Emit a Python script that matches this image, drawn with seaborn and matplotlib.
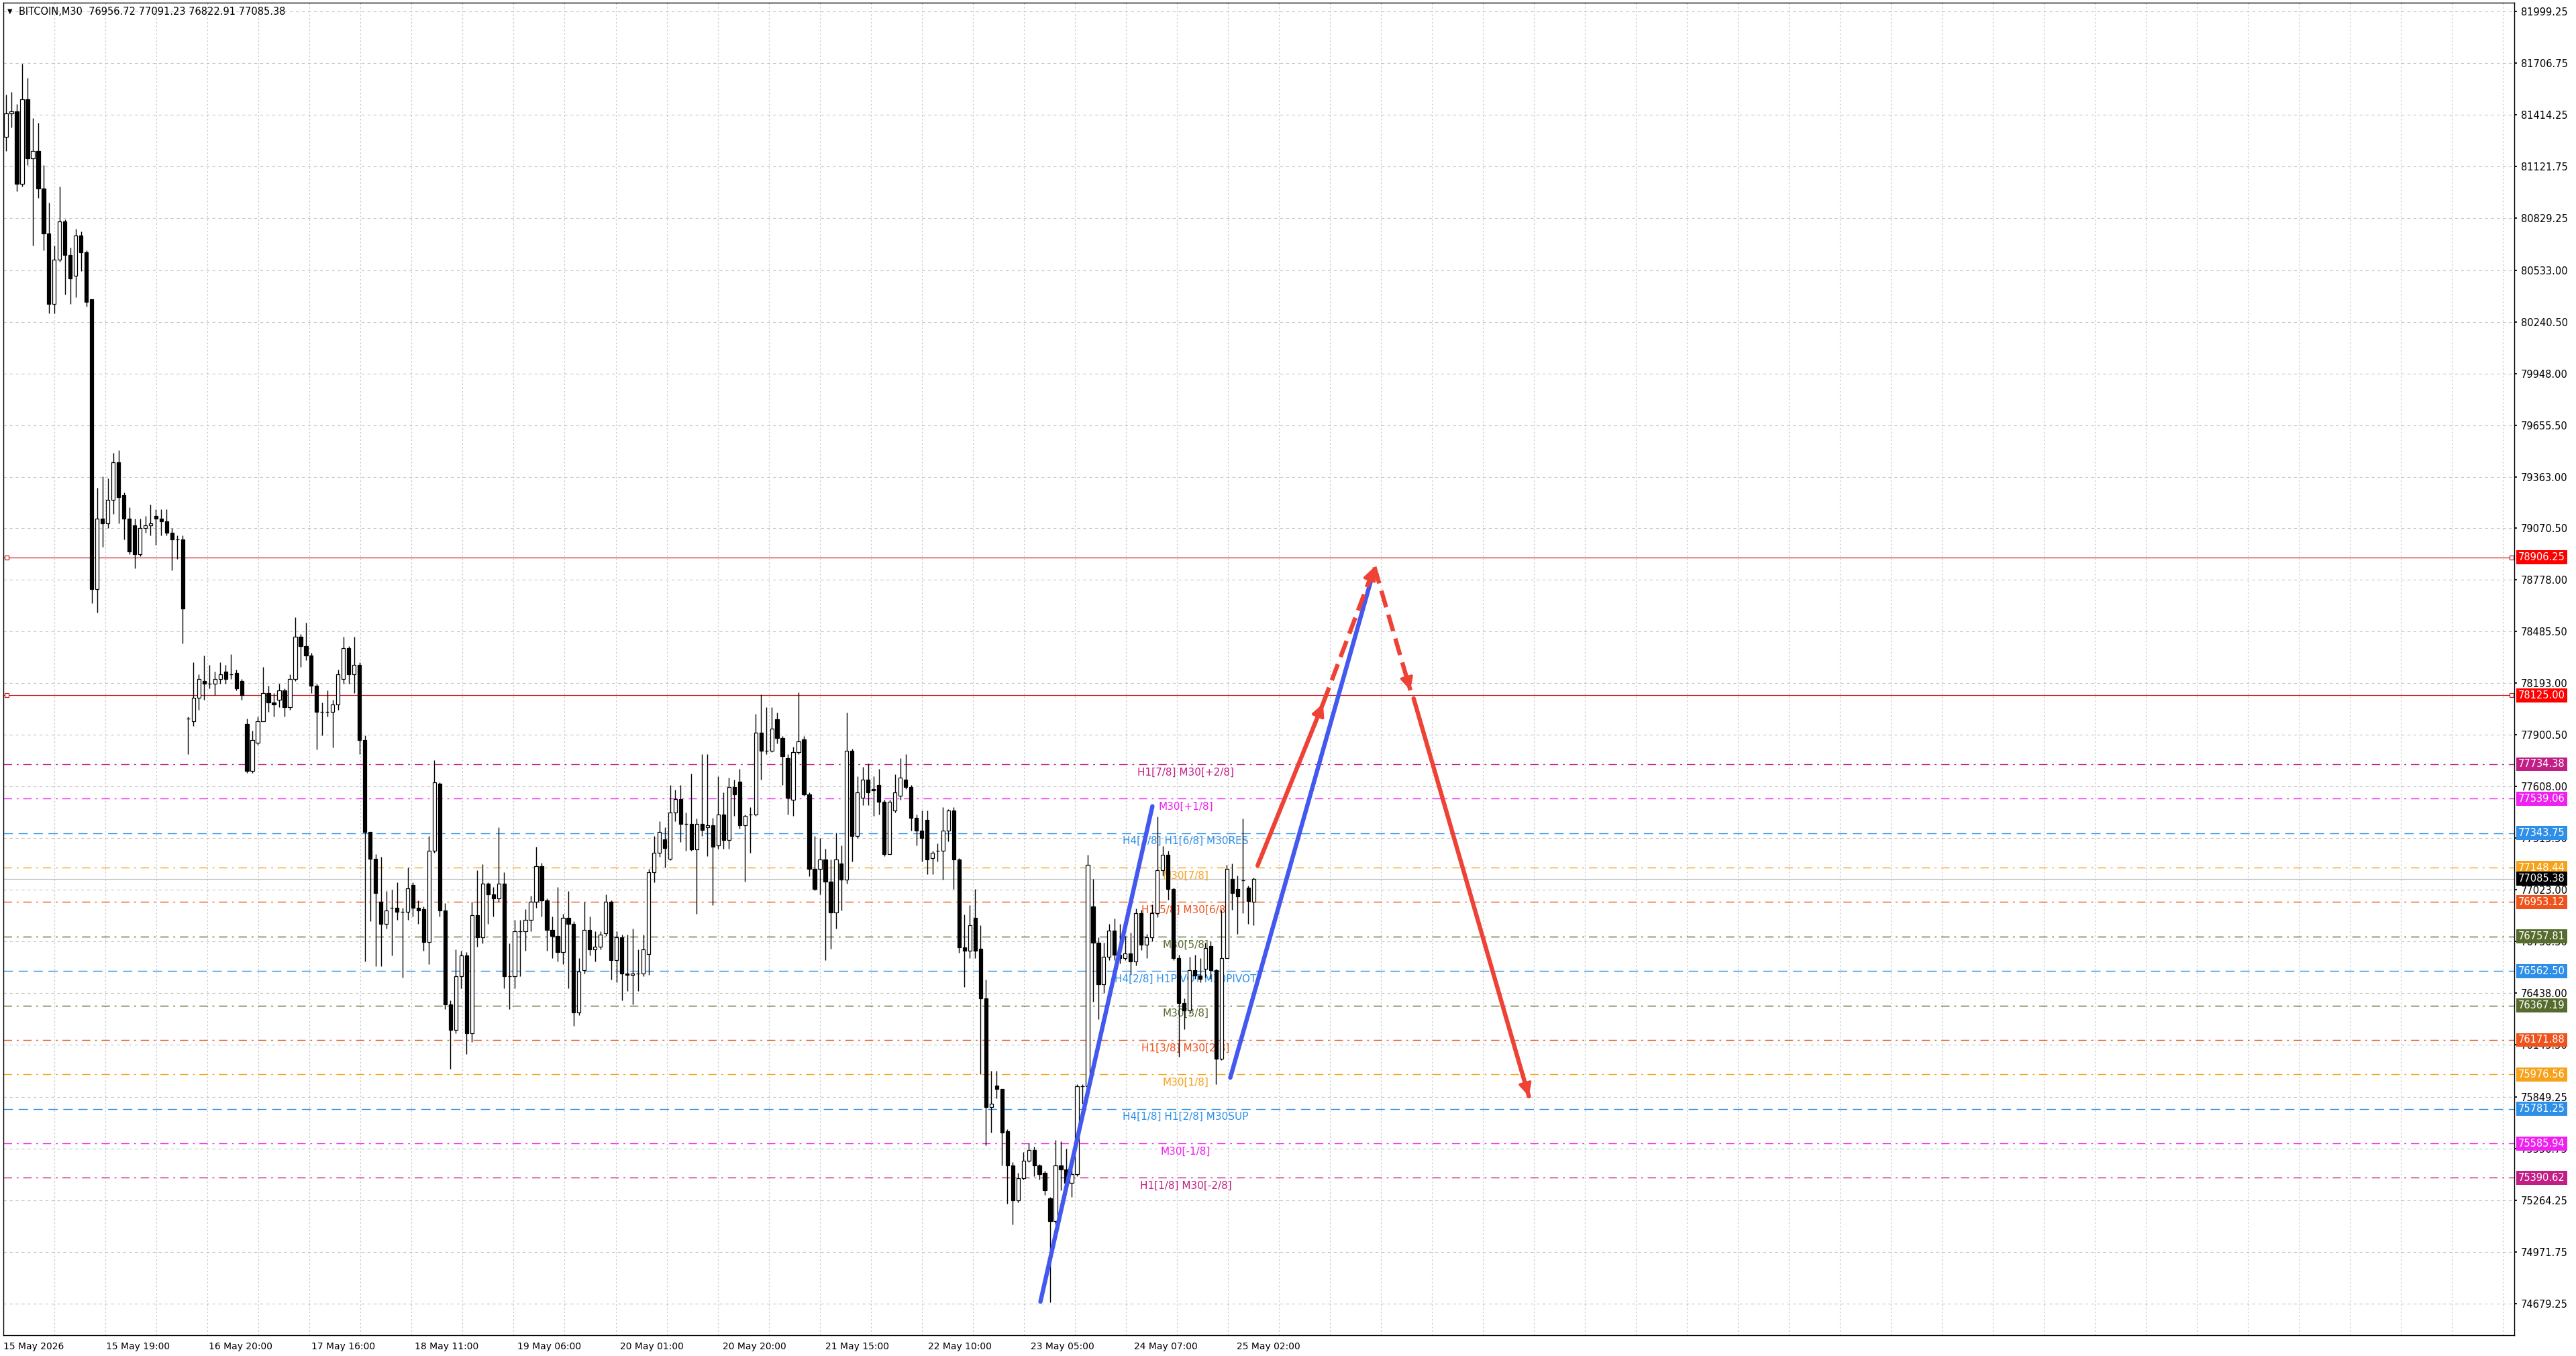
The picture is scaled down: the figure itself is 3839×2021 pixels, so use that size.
import numpy as np
import pandas as pd
import seaborn as sns
import matplotlib.pyplot as plt
from matplotlib.transforms import blended_transform_factory

# ---- price bars (each bar = two M30 candles) ----
opens = [
    81288, 81422, 81435, 81021, 81502, 81168, 81208, 80995, 80741, 80341,
    80594, 80808, 80621, 80501, 80728, 80634, 80367, 78725, 79126, 79099,
    79232, 79446, 79259, 79126, 79086, 78925, 79072, 79086, 79139, 79126,
    79112, 79046, 79006, 79006, 77991, 77978, 78111, 78205, 78191, 78191,
    78218, 78258, 78245, 78250, 78205, 77964, 77697, 77857, 77978, 78138,
    78084, 78098, 78151, 78058, 78218, 78458, 78405, 78351, 78178, 78031,
    78031, 78031, 78071, 78218, 78391, 78245, 78298,
    77871, 77352, 77200, 76955, 76828, 76921, 76921, 76896, 76896, 77048,
    76921, 76913, 76727, 77243, 77623, 76904, 76372, 76228, 76532, 76651,
    76211, 76879, 76752, 77056, 76997, 76972, 77056, 76532, 76532, 76786,
    76786, 76854, 76955, 77158, 76963, 76794, 76760, 76668, 76862, 76828,
    76329, 76566, 76794, 76684, 76701, 76777, 76955, 76625, 76752, 76549,
    76541, 76549, 76549, 76659, 77124, 77234, 77310, 77200, 77462, 77538,
    77395, 77395, 77251, 77395,
    77378, 77389, 77275, 77450, 77306, 77605, 77636, 77389, 77450, 77450,
    77914, 77811, 77811, 77987, 77884, 77770, 77533, 77801, 77873, 77564,
    77141, 77141, 77193, 77069, 76894, 77172, 77079, 77811, 77327, 77543,
    77646, 77595, 77615, 77523, 77224, 77471, 77554, 77646, 77605, 77430,
    77358, 77420, 77203, 77244, 77244, 77358, 77471, 77193, 76698, 76677,
    76863, 76688, 76409, 75791, 75914, 75894,
    75655, 75459, 75263, 75390, 75488, 75547, 75459, 75420, 75273, 75145,
    75459, 75439, 75361, 75410, 75909, 75909, 76928, 76722, 76487, 76644,
    76791, 76654, 76634, 76663, 76615, 76889, 76713, 76752, 76889, 77134,
    77222, 77026, 76634, 76379, 76340, 76566, 76536, 76575, 76703, 76566,
    76066, 76634, 77085, 77026, 77075, 77036, 76956.72,
]
highs = [
    81529, 81542, 81475, 81702, 81622, 81395, 81369, 81128, 80915, 80674,
    81008, 80821, 80661, 80768, 80754, 80648, 80367, 79299, 79366, 79353,
    79499, 79513, 79273, 79192, 79126, 79126, 79139, 79206, 79179, 79179,
    79179, 79072, 79032, 79032, 78004, 78311, 78245, 78351, 78298, 78258,
    78311, 78298, 78357, 78271, 78218, 77991, 77924, 78004, 78285, 78178,
    78138, 78191, 78164, 78245, 78565, 78472, 78538, 78365, 78191, 78084,
    78151, 78098, 78271, 78458, 78405, 78458, 78311,
    77897, 77352, 77226, 77209, 77014, 77023, 77065, 76921, 77150, 77065,
    76963, 76930, 77327, 77758, 77631, 76946, 76397, 76684, 76676, 76668,
    76955, 77133, 77166, 77065, 77040, 77378, 77124, 76718, 76854, 76854,
    76913, 76989, 77268, 77175, 76972, 76870, 77040, 76887, 77014, 76845,
    76634, 76955, 76870, 76786, 76786, 76997, 76963, 76786, 76769, 76769,
    76803, 76684, 76769, 77141, 77327, 77412, 77378, 77615, 77589, 77615,
    77462, 77682, 77428, 77792,
    77791, 77430, 77667, 77574, 77657, 77646, 77708, 77450, 77492, 78018,
    78131, 78059, 78059, 78028, 77894, 77791, 77832, 78141, 77894, 77574,
    77327, 77316, 77255, 77193, 77347, 77275, 78028, 77822, 77667, 77719,
    77739, 77667, 77708, 77533, 77533, 77677, 77770, 77791, 77615, 77450,
    77471, 77471, 77244, 77286, 77492, 77481, 77492, 77203, 76884, 76935,
    77028, 76822, 76512, 75997, 75997, 75894,
    75665, 75478, 75420, 75537, 75586, 75566, 75469, 75429, 75283, 75606,
    75596, 75557, 75439, 75919, 75919, 77222, 77085, 76752, 76722, 76830,
    76859, 76830, 76762, 76781, 76918, 76908, 76771, 76938, 77437, 77271,
    77242, 77036, 76654, 76409, 76644, 76654, 76634, 76722, 76732, 76575,
    76908, 77163, 77173, 77104, 77428, 77046, 77091.23,
]
lows = [
    81208, 81342, 80981, 81008, 81128, 80674, 80941, 80648, 80287, 80287,
    80581, 80394, 80341, 80381, 80527, 80327, 78645, 78592, 78965, 79072,
    79152, 79099, 79006, 78925, 78845, 78912, 79046, 79032, 78979, 79032,
    79032, 78832, 78899, 78418, 77791, 77951, 78044, 78098, 78164, 78124,
    78191, 78191, 78218, 78151, 78098, 77684, 77684, 77844, 77978, 78031,
    78004, 78058, 78004, 78044, 78205, 78285, 78325, 78138, 77817, 77897,
    78004, 77831, 78044, 78191, 78191, 78138, 77791,
    76617, 76845, 76591, 76591, 76803, 76651, 76854, 76524, 76854, 76870,
    76828, 76676, 76600, 77234, 76870, 76346, 76008, 76211, 76465, 76093,
    76160, 76701, 76718, 76828, 76870, 76955, 76465, 76346, 76465, 76532,
    76676, 76786, 76921, 76870, 76676, 76634, 76617, 76600, 76465, 76253,
    76312, 76549, 76651, 76617, 76684, 76760, 76515, 76498, 76397, 76448,
    76372, 76448, 76532, 76541, 77065, 77209, 77150, 77192, 77412, 77293,
    77243, 77243, 76887, 77327,
    77213, 76935, 77255, 77255, 77255, 77440, 77368, 77069, 77234, 77440,
    77646, 77791, 77801, 77853, 77615, 77450, 77440, 77791, 77554, 77100,
    77018, 76997, 76626, 76688, 76801, 76904, 77059, 77182, 77316, 77502,
    77502, 77440, 77450, 77213, 77244, 77461, 77533, 77595, 77358, 77275,
    77182, 77110, 77110, 77182, 77079, 77296, 77028, 76667, 76471, 76636,
    76636, 75976, 75575, 75646, 75842, 75460,
    75243, 75126, 75253, 75380, 75478, 75400, 75380, 75292, 74685, 75126,
    75322, 75322, 75283, 75400, 75811, 75900, 76389, 76291, 76438, 76624,
    76624, 76605, 76624, 76546, 76595, 76683, 76634, 76732, 76869, 77104,
    76967, 76624, 76076, 76233, 76321, 76517, 76497, 76526, 76517, 75919,
    76056, 76673, 76908, 76771, 76889, 76830, 76822.91,
]
closes = [
    81422, 81435, 81021, 81502, 81168, 81208, 80995, 80741, 80341, 80594,
    80808, 80621, 80487, 80728, 80634, 80354, 78725, 79126, 79099, 79232,
    79446, 79246, 79126, 78939, 78925, 79072, 79086, 79099, 79126, 79112,
    79046, 79006, 79006, 78618, 77991, 78111, 78218, 78191, 78191, 78218,
    78245, 78218, 78245, 78164, 78124, 77697, 77871, 77978, 78138, 78084,
    78071, 78151, 78058, 78218, 78458, 78405, 78351, 78178, 78031, 78031,
    78031, 78071, 78245, 78391, 78245, 78298, 77871,
    77352, 77200, 77006, 76828, 76904, 76921, 76896, 76896, 77031, 76921,
    76904, 76727, 77243, 77631, 76904, 76372, 76228, 76532, 76651, 76211,
    76879, 76752, 77056, 76997, 76972, 77056, 76532, 76532, 76786, 76786,
    76854, 76955, 77158, 76963, 76794, 76760, 76668, 76862, 76828, 76329,
    76558, 76794, 76684, 76701, 76769, 76955, 76625, 76752, 76549, 76541,
    76549, 76549, 76684, 77124, 77234, 77352, 77259, 77462, 77538, 77395,
    77395, 77251, 77395, 77361,
    77389, 77265, 77450, 77306, 77605, 77564, 77389, 77440, 77450, 77914,
    77811, 77811, 77935, 77884, 77780, 77543, 77801, 77863, 77564, 77141,
    77028, 77193, 77069, 76894, 77193, 77079, 77811, 77327, 77574, 77646,
    77574, 77585, 77523, 77224, 77523, 77574, 77657, 77605, 77430, 77358,
    77316, 77193, 77234, 77244, 77358, 77471, 77193, 76698, 76677, 76822,
    76677, 76409, 75791, 75811, 75894, 75646,
    75459, 75263, 75390, 75488, 75547, 75459, 75410, 75322, 75145, 75459,
    75439, 75361, 75410, 75909, 75909, 77163, 76722, 76487, 76644, 76791,
    76654, 76634, 76663, 76615, 76889, 76713, 76752, 76889, 77134, 77222,
    77026, 76634, 76379, 76340, 76566, 76536, 76517, 76693, 76566, 76066,
    76634, 77143, 77006, 76987, 77075, 76957, 77085.38,
]

# ---- axes text ----
price_ticks = [81999.25, 81706.75, 81414.25, 81121.75, 80829.25, 80533.00, 80240.50,
               79948.00, 79655.50, 79363.00, 79070.50, 78778.00, 78485.50, 78193.00,
               77900.50, 77608.00, 77315.50, 77023.00, 76730.50, 76438.00, 76145.50,
               75849.25, 75556.75, 75264.25, 74971.75, 74679.25]
date_labels = ["15 May 2026", "15 May 19:00", "16 May 20:00", "17 May 16:00", "18 May 11:00",
               "19 May 06:00", "20 May 01:00", "20 May 20:00", "21 May 15:00", "22 May 10:00",
               "23 May 05:00", "24 May 07:00", "25 May 02:00"]
date_candles = [0, 38, 76, 114, 152, 190, 228, 266, 304, 342, 380, 418, 456]
title = "BITCOIN,M30  76956.72 77091.23 76822.91 77085.38"

# ---- murrey levels ----
level_prices = [77734.38, 77539.06, 77343.75, 77148.44, 76953.12, 76757.81, 76562.50,
                76367.19, 76171.88, 75976.56, 75781.25, 75585.94, 75390.62]
level_names = ["H1[7/8] M30[+2/8]", "M30[+1/8]", "H4[3/8] H1[6/8] M30RES", "M30[7/8]",
               "H1[5/8] M30[6/8]", "M30[5/8]", "H4[2/8] H1PIVOT M30PIVOT", "M30[3/8]",
               "H1[3/8] M30[2/8]", "M30[1/8]", "H4[1/8] H1[2/8] M30SUP", "M30[-1/8]",
               "H1[1/8] M30[-2/8]"]
level_colors = ["#C21F86", "#F020F0", "#2E8FE8", "#F7A21B", "#F0521C", "#566B2C", "#2E8FE8",
                "#566B2C", "#F0521C", "#F7A21B", "#2E8FE8", "#F020F0", "#C21F86"]
level_dashed = [False, False, True, False, False, False, True, False, False, False, True, False, False]

red_lines = [78906.25, 78125.00]
last_price = 77085.38

# ---- drawn trend objects (candle index, price) ----
blue_x = [[383.5, 424.9], [453.7, 506.3]]
blue_y = [[74689, 77496], [75958, 78806]]
red_x = [[463.8, 488.0], [488.0, 507.0], [507.0, 520.3], [521.5, 564.1]]
red_y = [[77160, 78078], [78078, 78852], [78852, 78153], [78107, 75853]]
red_dashed = [False, True, True, False]

df = pd.DataFrame({"open": opens, "high": highs, "low": lows, "close": closes})
df["x"] = 1 + 1.98 * np.arange(len(df))
df["bull"] = df["close"] >= df["open"]

sns.set_theme(style="white")
plt.rcParams["font.family"] = ["DejaVu Sans"]

W, H = 3839, 2021
fig = plt.figure(figsize=(W / 100, H / 100), dpi=100)
ax = fig.add_axes([5 / W, 31 / H, 3742 / W, 1986 / H])
ax.set_xlim(0, 928.5)
ax.set_ylim(74499, 82049)

# grid
for p in price_ticks:
    ax.axhline(p, color="#c4c4c4", lw=0.8, linestyle=(0, (4, 4)), zorder=0)
for gx in np.arange(18.96, 928, 18.86):
    ax.axvline(gx, color="#c4c4c4", lw=0.8, linestyle=(0, (2, 3)), zorder=0)

# murrey lines and labels
for p, name, col, dsh in zip(level_prices, level_names, level_colors, level_dashed):
    ls = (0, (10, 6)) if dsh else (0, (9, 5, 2, 5))
    ax.axhline(p, color=col, lw=1.0, linestyle=ls, zorder=1)
    ax.annotate(name, xy=(437.2, p), xytext=(0, -12), textcoords="offset pixels",
                ha="center", va="center", fontsize=11, color=col, zorder=2)

for p in red_lines:
    ax.axhline(p, color="#C81E1E", lw=0.9, zorder=1)
    ax.plot([1.2, 927.4], [p, p], linestyle="none", marker="s", ms=4,
            mfc="white", mec="#C81E1E", mew=0.9, zorder=2)
ax.axhline(last_price, color="#bdbdbd", lw=0.9, zorder=1)

# candles
ax.vlines(df["x"], df["low"], df["high"], color="black", lw=1.0, zorder=3)
body_lo = np.minimum(df["open"], df["close"])
body_h = np.abs(df["close"] - df["open"])
ax.bar(df["x"], body_h, bottom=body_lo, width=1.3,
       color=np.where(df["bull"], "white", "black"), edgecolor="black",
       linewidth=0.9, zorder=4)

# trend lines
for xs, ys in zip(blue_x, blue_y):
    sns.lineplot(x=xs, y=ys, ax=ax, color="#4258EE", lw=4.6, zorder=6,
                 solid_capstyle="round")
for xs, ys, dsh in zip(red_x, red_y, red_dashed):
    ax.plot(xs, ys, color="#EE4236", lw=4.6, zorder=6,
            linestyle=(0, (4, 1.8)) if dsh else "-", solid_capstyle="round")
    fx = xs[1] - (xs[1] - xs[0]) * 0.08
    fy = ys[1] - (ys[1] - ys[0]) * 0.08
    ax.annotate("", xy=(xs[1], ys[1]), xytext=(fx, fy),
                arrowprops=dict(arrowstyle="-|>", color="#EE4236", lw=3,
                                mutation_scale=28, shrinkA=0, shrinkB=0), zorder=7)

# axes styling
ax.yaxis.tick_right()
ax.set_yticks(price_ticks)
ax.set_yticklabels([f"{p:.2f}" for p in price_ticks])
ax.tick_params(axis="y", length=3, pad=4, labelsize=10.5, colors="black", direction="out")
ax.set_xticks(date_candles)
ax.set_xticklabels(date_labels)
for lab in ax.get_xticklabels():
    lab.set_horizontalalignment("left")
ax.tick_params(axis="x", length=4, pad=3, labelsize=10, colors="black", direction="out")
ax.grid(False)
for s in ax.spines.values():
    s.set_color("black")
    s.set_linewidth(1.0)

# price boxes on the right scale
tr = blended_transform_factory(ax.transAxes, ax.transData)
box_prices = red_lines + level_prices + [last_price]
box_colors = ["#FF0000", "#FF0000"] + level_colors + ["black"]
for p, col in zip(box_prices, box_colors):
    ax.text(1 + 6 / 3742, p, f"{p:.2f}", transform=tr, ha="left", va="center",
            fontsize=10.5, color="white", clip_on=False, zorder=10,
            bbox=dict(boxstyle="square,pad=0.2", fc=col, ec="none"))

# header
fig.text(11 / W, 1 - 17 / H, "\u25bc", fontsize=7, va="center", ha="left", color="black")
fig.text(28 / W, 1 - 17 / H, title, fontsize=10.5, va="center", ha="left", color="black")

fig.savefig("out.png", dpi=100, facecolor="white")
